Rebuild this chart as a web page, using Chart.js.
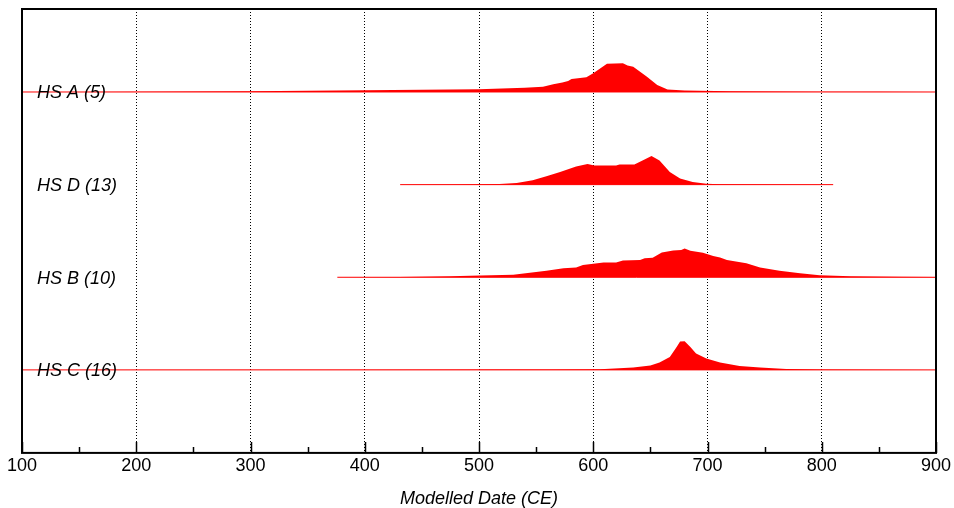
<!DOCTYPE html>
<html>
<head>
<meta charset="utf-8">
<script src="https://cdn.jsdelivr.net/npm/chart.js@4.4.1/dist/chart.umd.min.js"></script>
<style>
  html, body { margin: 0; padding: 0; background: #fff; }
  #wrap { width: 954px; height: 508px; }
</style>
</head>
<body>
<div id="wrap"><canvas id="chart"></canvas></div>
<script>
// x axis
const xMin = 100;
const xMax = 900;
const xTicks = [100, 200, 300, 400, 500, 600, 700, 800, 900];
const xMinorTicks = [150, 250, 350, 450, 550, 650, 750, 850];

// rows, top to bottom
const rowLabels = ["HS A (5)", "HS D (13)", "HS B (10)", "HS C (16)"];
const rowRanges = [[100, 900], [431, 810], [376, 900], [100, 900]];

// probability densities, relative to each row's peak
const hsAYears = [100, 150, 200, 250, 300, 350, 400, 450, 500, 520, 540, 556, 565, 573, 578, 581, 594, 600, 612, 626, 630, 635, 647, 656, 665, 680, 693, 720, 760, 800, 850, 900];
const hsADensity = [0, 0.004, 0.01, 0.02, 0.03, 0.045, 0.06, 0.075, 0.1, 0.12, 0.15, 0.18, 0.27, 0.33, 0.38, 0.45, 0.51, 0.65, 0.98, 1.0, 0.92, 0.88, 0.53, 0.24, 0.085, 0.05, 0.04, 0.025, 0.015, 0.01, 0.005, 0.003];

const hsDYears = [431, 480, 518, 533, 547, 559, 571, 585, 595, 601, 620, 623, 636, 644, 651, 658, 667, 676, 687, 699, 711, 750, 810];
const hsDDensity = [0, 0.005, 0.02, 0.06, 0.15, 0.29, 0.44, 0.63, 0.72, 0.67, 0.67, 0.70, 0.70, 0.86, 1.0, 0.84, 0.44, 0.21, 0.09, 0.035, 0.015, 0.005, 0];

const hsBYears = [376, 430, 475, 501, 530, 559, 574, 585, 591, 609, 620, 626, 641, 645, 652, 660, 670, 677, 680, 685, 696, 705, 711, 717, 734, 746, 763, 781, 798, 825, 868, 900];
const hsBDensity = [0, 0.01, 0.035, 0.06, 0.09, 0.23, 0.31, 0.34, 0.43, 0.51, 0.51, 0.58, 0.6, 0.66, 0.68, 0.86, 0.93, 0.95, 1.0, 0.92, 0.85, 0.74, 0.69, 0.6, 0.49, 0.34, 0.23, 0.14, 0.07, 0.035, 0.015, 0.01];

const hsCYears = [100, 400, 518, 562, 606, 635, 650, 658, 667, 673, 676, 680, 685, 690, 699, 711, 728, 746, 769, 800, 850, 900];
const hsCDensity = [0, 0.002, 0.01, 0.017, 0.024, 0.08, 0.15, 0.26, 0.45, 0.8, 0.99, 1.0, 0.8, 0.57, 0.4, 0.26, 0.14, 0.08, 0.035, 0.015, 0.003, 0];

const rowYears = [hsAYears, hsDYears, hsBYears, hsCYears];
const rowDensity = [hsADensity, hsDDensity, hsBDensity, hsCDensity];

const RED = "rgb(255,0,0)";
const peakHeight = 0.31;   // in row units
const rowCount = rowLabels.length;

function rowBase(i) {
    return rowCount - i;
}

const datasets = [];
rowLabels.forEach((label, i) => {
    const base = rowBase(i);
    datasets.push({
        label: label,
        data: rowYears[i].map((x, k) => ({ x: x, y: base + rowDensity[i][k] * peakHeight })),
        fill: { value: base },
        backgroundColor: RED,
        borderWidth: 0,
        pointRadius: 0,
        tension: 0,
    });
    datasets.push({
        label: label + " base",
        data: rowRanges[i].map((x) => ({ x: x, y: base })),
        fill: false,
        borderColor: RED,
        borderWidth: 1,
        pointRadius: 0,
    });
});

const frameAndLabels = {
    id: "frameAndLabels",
    afterDatasetsDraw(chart) {
        const { ctx, chartArea } = chart;
        const xs = chart.scales.x;
        const ys = chart.scales.y;
        ctx.save();

        // row labels
        ctx.fillStyle = "#000";
        ctx.font = "italic 18px 'Liberation Sans', Arial, sans-serif";
        ctx.textAlign = "left";
        ctx.textBaseline = "alphabetic";
        rowLabels.forEach((label, i) => {
            ctx.fillText(label, chartArea.left + 15, ys.getPixelForValue(rowBase(i)) + 6.5);
        });

        // inward ticks
        ctx.strokeStyle = "#000";
        ctx.lineWidth = 1.5;
        ctx.beginPath();
        xTicks.forEach((v) => {
            const px = Math.round(xs.getPixelForValue(v)) + 0.5;
            ctx.moveTo(px, chartArea.bottom);
            ctx.lineTo(px, chartArea.bottom - 11);
        });
        xMinorTicks.forEach((v) => {
            const px = Math.round(xs.getPixelForValue(v)) + 0.5;
            ctx.moveTo(px, chartArea.bottom);
            ctx.lineTo(px, chartArea.bottom - 6);
        });
        ctx.stroke();

        // frame
        ctx.lineWidth = 2;
        ctx.strokeRect(chartArea.left, chartArea.top, chartArea.right - chartArea.left, chartArea.bottom - chartArea.top);
        ctx.restore();
    }
};

new Chart(document.getElementById("chart"), {
    type: "line",
    data: { datasets },
    plugins: [frameAndLabels],
    options: {
        responsive: true,
        maintainAspectRatio: false,
        animation: false,
        layout: { padding: { left: 22, right: 18, top: 9, bottom: 0.5 } },
        plugins: {
            legend: { display: false },
            tooltip: { enabled: false },
        },
        scales: {
            x: {
                type: "linear",
                min: xMin,
                max: xMax,
                afterBuildTicks: (axis) => {
                    axis.ticks = xTicks.map((v) => ({ value: v }));
                },
                ticks: {
                    color: "#000",
                    padding: 2,
                    maxRotation: 0,
                    font: { family: "'Liberation Sans', Arial, sans-serif", size: 18 },
                },
                grid: {
                    drawTicks: false,
                    lineWidth: 1,
                    color: (c) => (c.tick && (c.tick.value === xMin || c.tick.value === xMax)) ? "rgba(0,0,0,0)" : "#000",
                },
                border: { display: false, dash: [1, 2] },
                title: {
                    display: true,
                    text: "Modelled Date (CE)",
                    color: "#000",
                    padding: { top: 11, bottom: 0 },
                    font: { family: "'Liberation Sans', Arial, sans-serif", size: 18, style: "italic", lineHeight: 1 },
                },
            },
            y: {
                display: false,
                min: 0.104,
                max: 4.896,
            },
        },
    },
});
</script>
</body>
</html>
